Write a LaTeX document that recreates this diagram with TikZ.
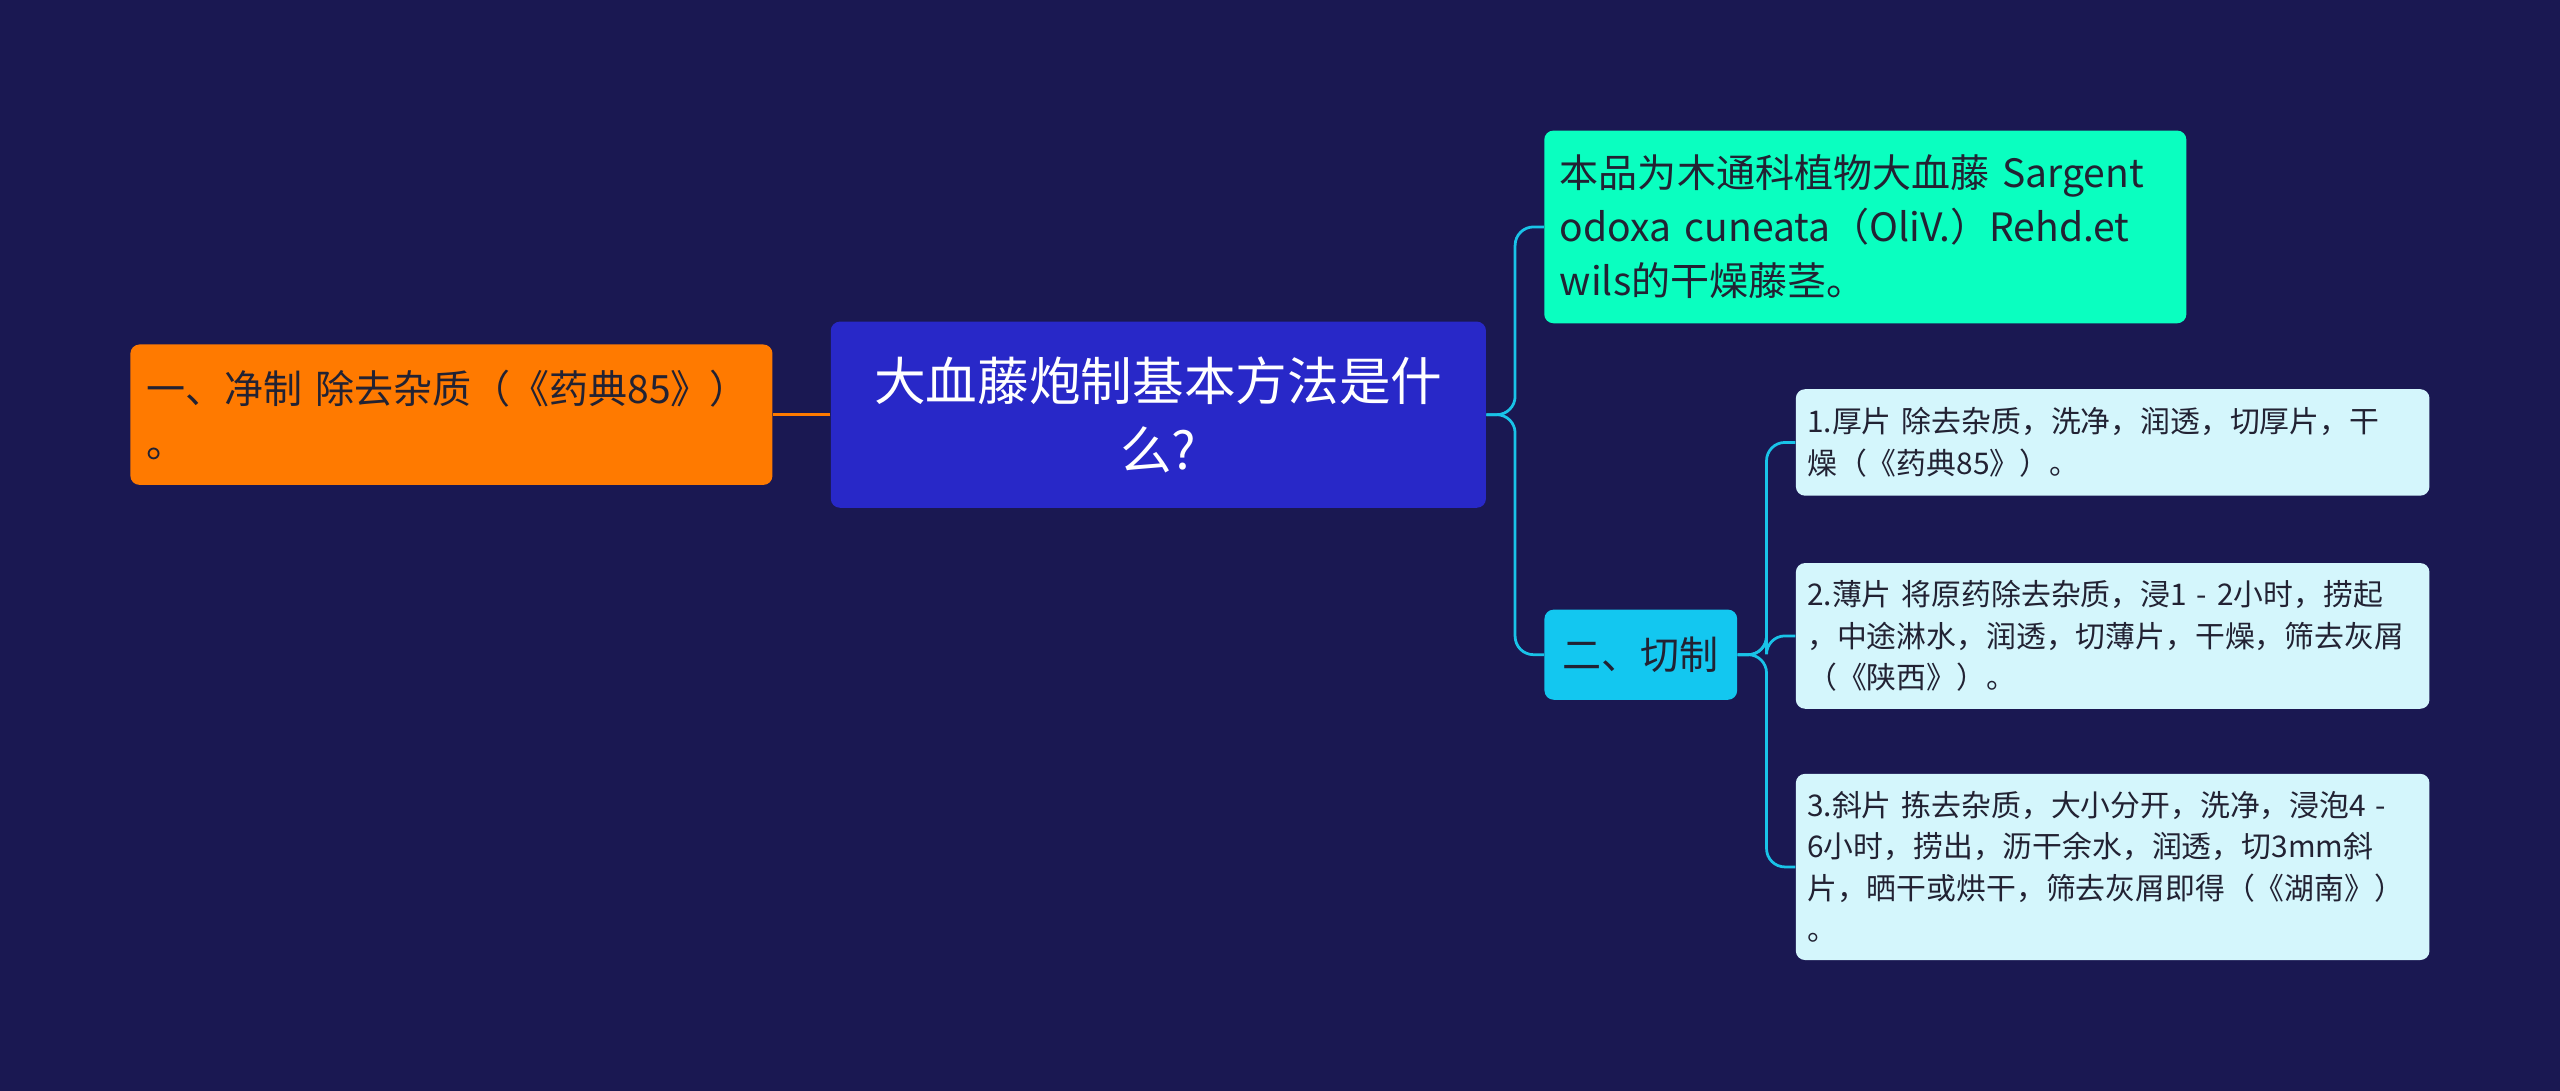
\documentclass[tikz,border=0pt]{standalone}
\usepackage{fontspec}
\setmainfont{Noto Sans CJK SC}
\definecolor{bgnavy}{HTML}{1A1852}
\definecolor{rootblue}{HTML}{2828C8}
\definecolor{orangebox}{HTML}{FF7A00}
\definecolor{tealbox}{HTML}{0AFFC0}
\definecolor{cyanbox}{HTML}{13C7F0}
\definecolor{leafbox}{HTML}{D4F6FC}
\definecolor{linkcyan}{HTML}{19C3E8}
\definecolor{darktext}{HTML}{222233}
\tikzset{
  box/.style={rectangle, rounded corners=4pt, inner sep=0pt, text=darktext},
  rootbox/.style={box, fill=rootblue, text=white, font=\fontsize{22.5}{30}\selectfont, align=center},
  mainbox/.style={box, font=\fontsize{17}{23.5}\selectfont, align=left},
  leaf/.style={box, fill=leafbox, font=\fontsize{13}{18}\selectfont, align=left, text width=9.35cm},
  link/.style={draw=linkcyan, line width=1.2pt, rounded corners=8pt}
}
\begin{document}
\begin{tikzpicture}[x=0.025cm, y=-0.025cm]
  \fill[bgnavy] (0,0) rectangle (1568,668);
  % root and main branches
  \node[rootbox, minimum width=10.03cm, minimum height=2.85cm] (root) at (709.5,254) {大血藤炮制基本方法是什\\么?};
  \node[mainbox, fill=orangebox, minimum width=9.83cm, minimum height=2.15cm, text width=9.35cm] (jing) at (276.5,254) {一、净制 除去杂质（《药典85》）\\。};
  \node[mainbox, fill=tealbox, minimum width=9.83cm, minimum height=2.95cm, text width=9.35cm] (ben) at (1142.5,139) {本品为木通科植物大血藤 Sargent\\odoxa cuneata（OliV.）Rehd.et\\wils的干燥藤茎。};
  \node[mainbox, fill=cyanbox, minimum width=2.95cm, minimum height=1.38cm, align=center] (qie) at (1005,401) {二、切制};
  % leaves
  \node[leaf, minimum width=9.7cm, minimum height=1.63cm] (hou) at (1294,271) {1.厚片 除去杂质，洗净，润透，切厚片，干\\燥（《药典85》）。};
  \node[leaf, minimum width=9.7cm, minimum height=2.23cm] (bao) at (1294,389.5) {2.薄片 将原药除去杂质，浸1 - 2小时，捞起\\，中途淋水，润透，切薄片，干燥，筛去灰屑\\（《陕西》）。};
  \node[leaf, minimum width=9.7cm, minimum height=2.85cm] (xie) at (1294,531) {3.斜片 拣去杂质，大小分开，洗净，浸泡4 -\\6小时，捞出，沥干余水，润透，切3mm斜\\片，晒干或烘干，筛去灰屑即得（《湖南》）\\。};
  % connectors
  \draw[draw=orangebox, line width=1.2pt] (root.west) -- (jing.east);
  \draw[link] (root.east) -- (928,254) |- (ben.west);
  \draw[link] (root.east) -- (928,254) |- (qie.west);
  \foreach \leafname in {hou, bao, xie}
    \draw[link] (qie.east) -- (1082,401) |- (\leafname.west);
\end{tikzpicture}
\end{document}
